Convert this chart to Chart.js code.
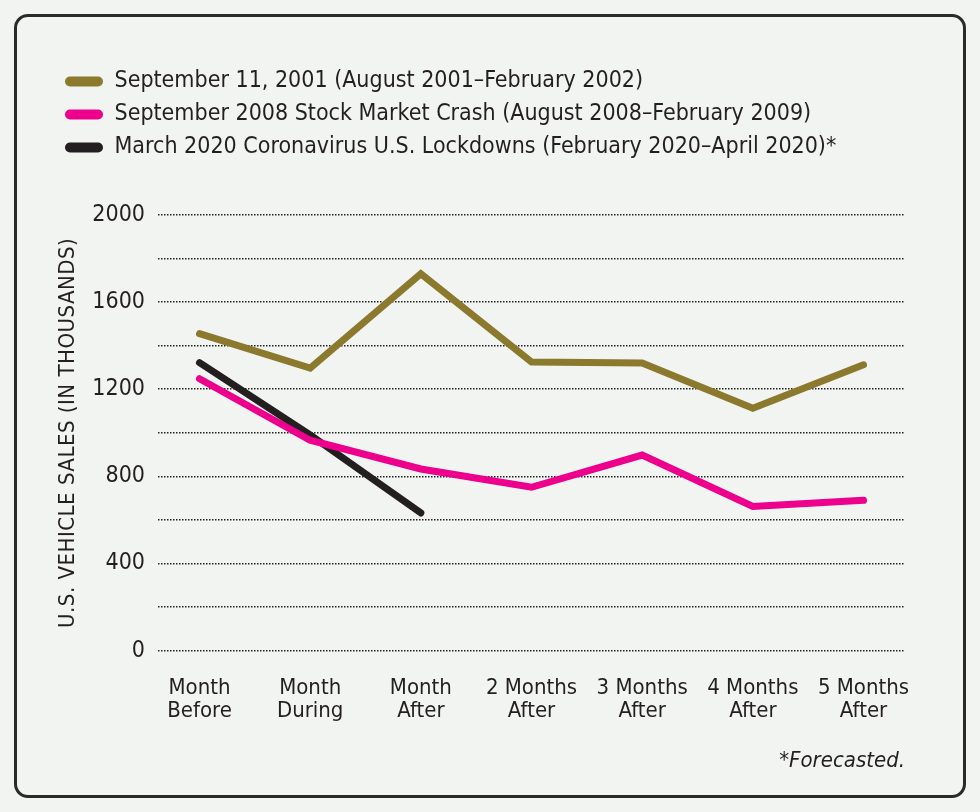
<!DOCTYPE html>
<html>
<head>
<meta charset="utf-8">
<script src="https://cdn.jsdelivr.net/npm/chart.js@4"></script>
<style>
  html, body { margin: 0; padding: 0; background: #f2f4f1; }
  #frame { position: absolute; left: 14px; top: 14px; width: 946px; height: 778px;
           border: 3px solid #2a2a2a; border-radius: 14px; background: #f2f4f1; }
  #wrap { position: absolute; left: 0; top: 0; width: 980px; height: 812px; }
</style>
</head>
<body>
<div id="frame"></div>
<div id="wrap"><canvas id="c"></canvas></div>
<script>
const categories = [
  ['Month', 'Before'], ['Month', 'During'], ['Month', 'After'],
  ['2 Months', 'After'], ['3 Months', 'After'], ['4 Months', 'After'], ['5 Months', 'After']
];
const seriesNames = [
  'September 11, 2001 (August 2001\u2013February 2002)',
  'September 2008 Stock Market Crash (August 2008\u2013February 2009)',
  'March 2020 Coronavirus U.S. Lockdowns (February 2020\u2013April 2020)*'
];
const sept2001 = [1455, 1297, 1730, 1325, 1320, 1113, 1312];
const crash2008 = [1248, 966, 834, 750, 898, 662, 690];
const covid2020 = [1322, 990, 632];
const yTicks = [0, 400, 800, 1200, 1600, 2000];
const colors = ['#8b7a2e', '#ec008c', '#231f20'];

const FONT = "'Liberation Sans Narrow', 'DejaVu Sans Condensed', sans-serif";
const TEXT = '#231f20';

const toPoints = arr => arr.map((v, i) => ({ x: i, y: v }));

const tweaks = {
  id: 'tweaks',
  afterInit(chart) {
    const lg = chart.legend;
    const orig = lg.fit;
    lg.fit = function () { orig.call(this); this.height += 46; };
  },
  afterLayout(chart) {
    const s = chart.scales.y;
    if (!s._ls) {
      const o = s.drawTitle;
      s.drawTitle = function () {
        const ctx = this.ctx; ctx.save(); ctx.letterSpacing = '0.5px'; o.apply(this, arguments); ctx.restore();
      };
      s._ls = true;
    }
  }
};

new Chart(document.getElementById('c'), {
  type: 'line',
  data: {
    datasets: [sept2001, crash2008, covid2020].map((d, i) => ({
      label: seriesNames[i],
      data: toPoints(d),
      borderColor: colors[i],
      backgroundColor: colors[i],
      borderWidth: 7,
      borderCapStyle: 'round',
      borderJoinStyle: 'miter',
      pointRadius: 0,
      pointHoverRadius: 0,
      tension: 0,
      fill: false
    }))
  },
  plugins: [tweaks],
  options: {
    responsive: true,
    maintainAspectRatio: false,
    animation: false,
    events: [],
    layout: { padding: { left: 55, right: 75, top: 60, bottom: 38 } },
    plugins: {
      legend: {
        position: 'top',
        align: 'start',
        labels: {
          boxWidth: 38,
          boxHeight: 10,
          padding: 10,
          useBorderRadius: true,
          borderRadius: 5,
          color: TEXT,
          font: { family: FONT, size: 23 },
          generateLabels(chart) {
            return chart.data.datasets.map((ds, i) => ({
              text: ds.label, fillStyle: colors[i], strokeStyle: colors[i],
              lineWidth: 0, fontColor: TEXT, datasetIndex: i, borderRadius: 5
            }));
          }
        }
      },
      title: {
        display: true,
        text: '*Forecasted.',
        position: 'bottom',
        align: 'end',
        color: TEXT,
        font: { family: FONT, size: 22, style: 'italic', weight: 'normal' },
        padding: 0
      },
      tooltip: { enabled: false }
    },
    scales: {
      x: {
        type: 'linear',
        min: -0.375,
        max: 6.375,
        afterBuildTicks: s => { s.ticks = categories.map((c, i) => ({ value: i })); },
        afterFit: s => { s.height = 97; },
        grid: { display: false },
        border: { display: false },
        ticks: {
          autoSkip: false, maxRotation: 0, padding: 18,
          color: TEXT,
          font: { family: FONT, size: 22, lineHeight: 1.05 },
          callback: v => categories[v]
        }
      },
      y: {
        min: 0,
        max: 2000,
        afterBuildTicks: s => {
          const t = [];
          for (let v = 0; v <= 2000; v += 200) t.push({ value: v });
          s.ticks = t;
        },
        afterFit: s => { s.width = 103; },
        border: { display: false, dash: [1.5, 1.5] },
        grid: {
          color: '#222222', lineWidth: 1.6, drawTicks: false
        },
        ticks: {
          padding: 13,
          color: TEXT,
          font: { family: FONT, size: 23 },
          callback: v => (yTicks.includes(v) ? String(v) : '')
        },
        title: {
          display: true,
          text: 'U.S. VEHICLE SALES (IN THOUSANDS)',
          color: TEXT,
          font: { family: FONT, size: 22 },
          padding: { top: 0, bottom: 0 }
        }
      }
    }
  }
});
</script>
</body>
</html>
